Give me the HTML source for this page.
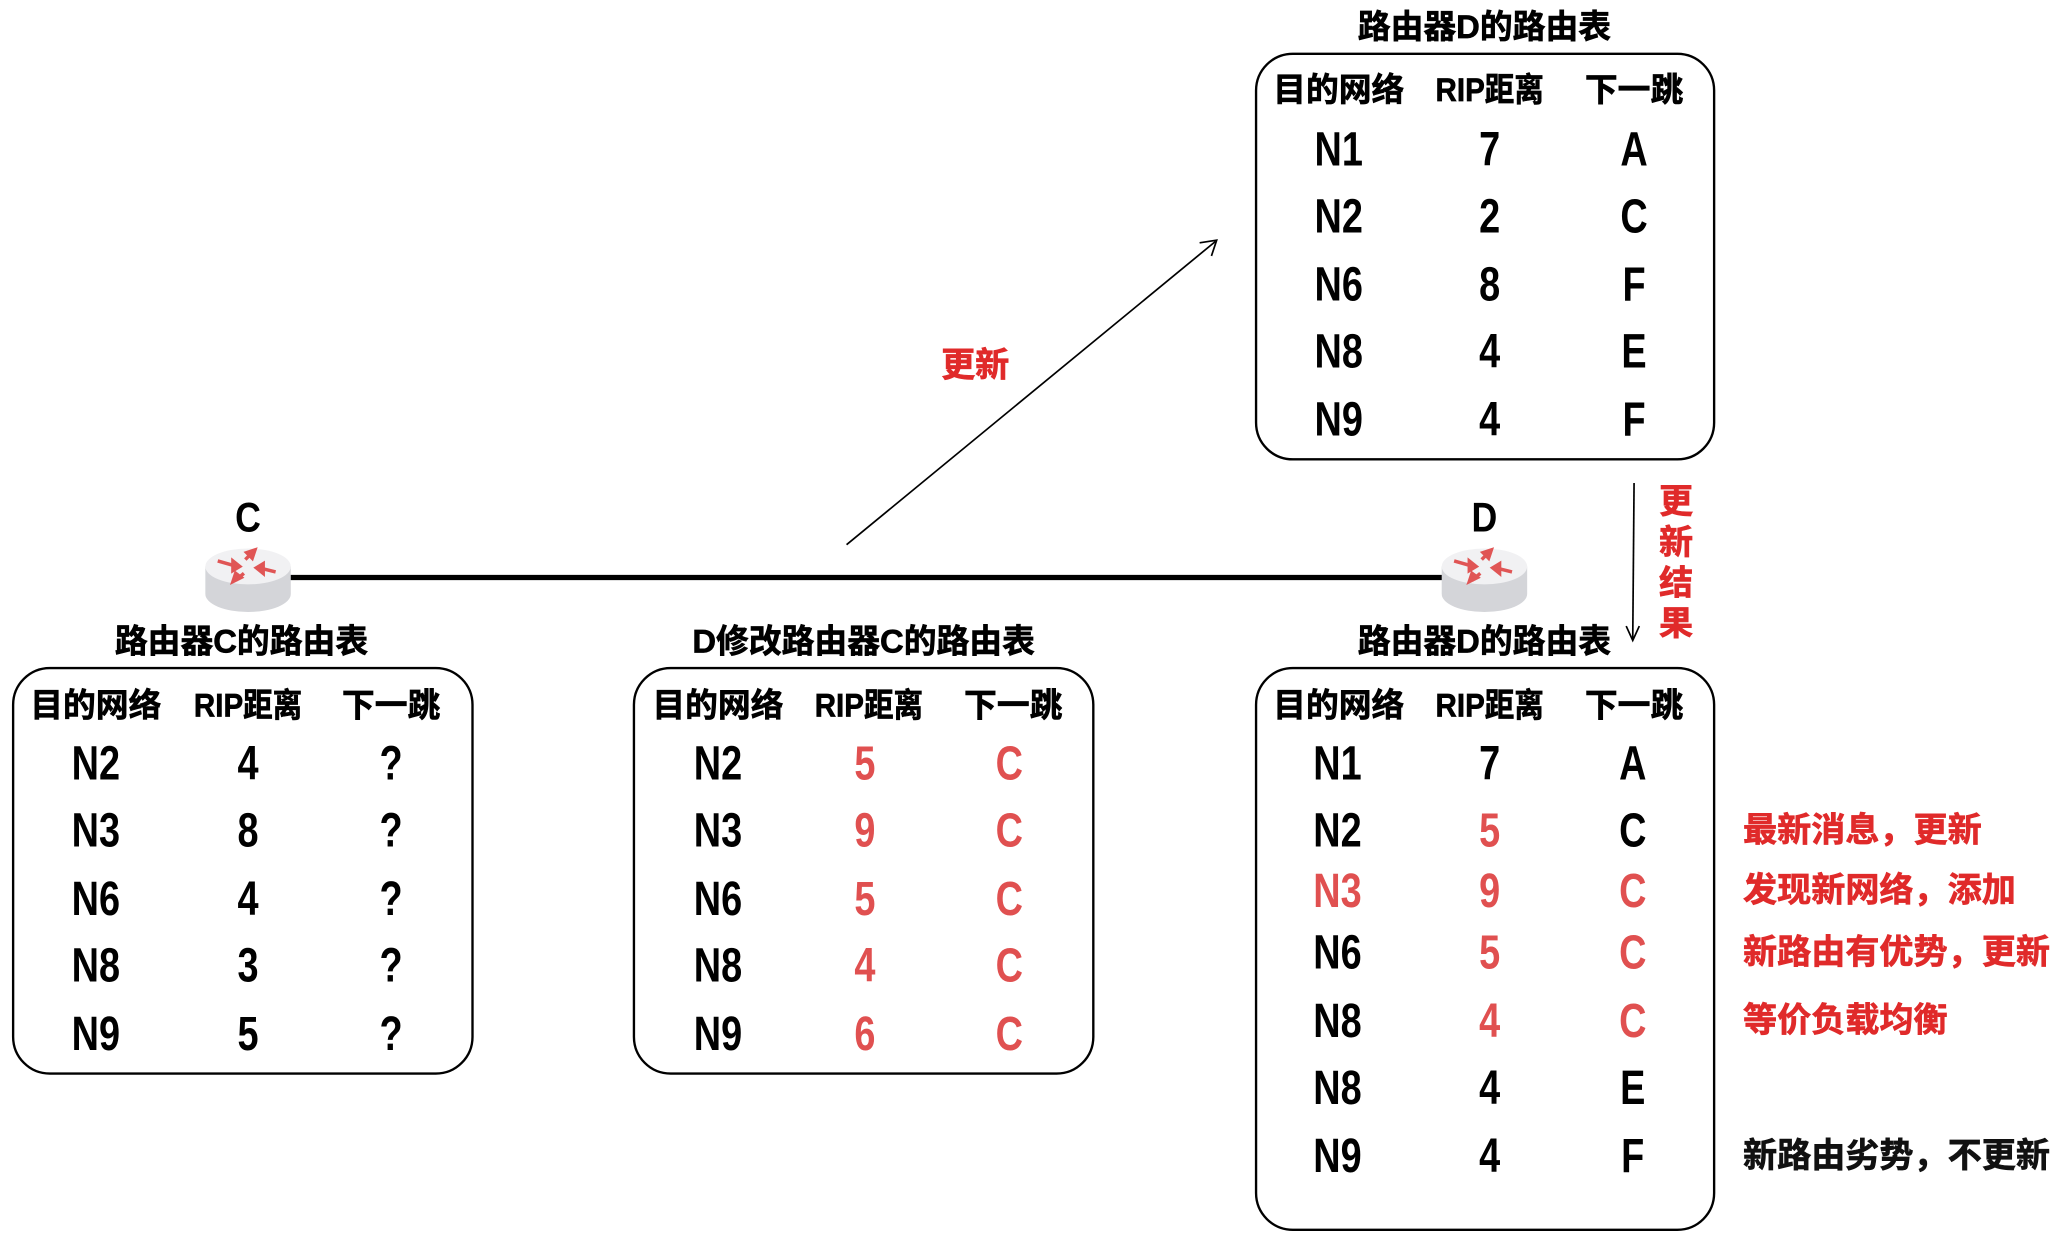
<!DOCTYPE html>
<html><head><meta charset="utf-8"><style>
html,body{margin:0;padding:0;background:#fff;}
svg{display:block;}
text{font-family:"Liberation Sans","Noto Sans CJK SC",sans-serif;font-weight:bold;}
.h{font-size:25px;stroke:#000;stroke-width:0.5px;}
.t{font-size:25px;stroke:#000;stroke-width:0.5px;}
.r{font-size:37px;}
.red{fill:#e05050;}
.ann{font-size:26px;fill:#e02a2a;stroke:#e02a2a;stroke-width:0.5px;}
</style></head><body>
<svg width="2058" height="1242" viewBox="0 0 1568 946.3" preserveAspectRatio="none" xmlns="http://www.w3.org/2000/svg">
<defs>
<g id="router">
 <path d="M-31,-8 L-31,12 A31,13 0 0 0 31,12 L31,-8 Z" fill="#d4d5d9"/>
 <ellipse cx="0" cy="-8" rx="31" ry="13" fill="#f1f1f3"/>
 <g stroke="#e05555" stroke-width="2.5" fill="#e05555">
  <line x1="-22" y1="-12" x2="-8" y2="-8"/><polygon points="-6,-8 -11,-12 -11,-5"/>
  <line x1="20" y1="-4" x2="8" y2="-7"/><polygon points="6,-7 11,-10 11,-3"/>
  <line x1="3" y1="-18" x2="-2" y2="-13"/><polygon points="5,-20 -1,-18 3,-14"/>
  <line x1="-3" y1="-3" x2="-9" y2="2"/><polygon points="-11,3 -9,-3 -5,0"/>
 </g>
</g>
</defs>

<line x1="215" y1="440" x2="1105" y2="440" stroke="#000" stroke-width="4"/>
<g transform="translate(189,440) scale(1.05)"><use href="#router"/></g>
<g transform="translate(1131,440) scale(1.05)"><use href="#router"/></g>
<text x="189" y="405" text-anchor="middle" style="font-size:32px" transform="translate(189,0) scale(0.85,1) translate(-189,0)">C</text>
<text x="1131" y="405" text-anchor="middle" style="font-size:32px" transform="translate(1131,0) scale(0.85,1) translate(-1131,0)">D</text>

<line x1="645" y1="415" x2="926" y2="184" stroke="#000" stroke-width="1.3"/>
<polyline points="914,185 927,183 923,195" fill="none" stroke="#000" stroke-width="1.3"/>
<text x="743" y="287" text-anchor="middle" class="ann">更新</text>

<line x1="1245" y1="368" x2="1244" y2="487" stroke="#000" stroke-width="1.3"/>
<polyline points="1239,477 1244,488 1249,477" fill="none" stroke="#000" stroke-width="1.3"/>
<text x="1277" y="391" class="ann" text-anchor="middle">更</text>
<text x="1277" y="422" class="ann" text-anchor="middle">新</text>
<text x="1277" y="453" class="ann" text-anchor="middle">结</text>
<text x="1277" y="484" class="ann" text-anchor="middle">果</text>

<text x="1131" y="29" text-anchor="middle" class="t">路由器D的路由表</text>
<text x="184" y="497" text-anchor="middle" class="t">路由器C的路由表</text>
<text x="658" y="497" text-anchor="middle" class="t">D修改路由器C的路由表</text>
<text x="1131" y="497" text-anchor="middle" class="t">路由器D的路由表</text>

<rect x="957" y="41" width="349" height="309" rx="28" fill="none" stroke="#000" stroke-width="1.8"/>
<rect x="10" y="509" width="350" height="309" rx="28" fill="none" stroke="#000" stroke-width="1.8"/>
<rect x="483" y="509" width="350" height="309" rx="28" fill="none" stroke="#000" stroke-width="1.8"/>
<rect x="957" y="509" width="349" height="428" rx="28" fill="none" stroke="#000" stroke-width="1.8"/>

<text x="1020" y="77" class="h" text-anchor="middle">目的网络</text>
<text x="1135" y="77" class="h" text-anchor="middle" transform="translate(1135,0) scale(0.9,1) translate(-1135,0)">RIP距离</text>
<text x="1245" y="77" class="h" text-anchor="middle">下一跳</text>

<text x="73" y="546" class="h" text-anchor="middle">目的网络</text>
<text x="189" y="546" class="h" text-anchor="middle" transform="translate(189,0) scale(0.9,1) translate(-189,0)">RIP距离</text>
<text x="298" y="546" class="h" text-anchor="middle">下一跳</text>

<text x="547" y="546" class="h" text-anchor="middle">目的网络</text>
<text x="662" y="546" class="h" text-anchor="middle" transform="translate(662,0) scale(0.9,1) translate(-662,0)">RIP距离</text>
<text x="772" y="546" class="h" text-anchor="middle">下一跳</text>

<text x="1020" y="546" class="h" text-anchor="middle">目的网络</text>
<text x="1135" y="546" class="h" text-anchor="middle" transform="translate(1135,0) scale(0.9,1) translate(-1135,0)">RIP距离</text>
<text x="1245" y="546" class="h" text-anchor="middle">下一跳</text>

<g transform="translate(1020,0) scale(0.78,1)"><text class="r" text-anchor="middle" y="126">N1</text><text class="r" text-anchor="middle" y="177">N2</text><text class="r" text-anchor="middle" y="229">N6</text><text class="r" text-anchor="middle" y="280">N8</text><text class="r" text-anchor="middle" y="332">N9</text></g>
<g transform="translate(1135,0) scale(0.78,1)"><text class="r" text-anchor="middle" y="126">7</text><text class="r" text-anchor="middle" y="177">2</text><text class="r" text-anchor="middle" y="229">8</text><text class="r" text-anchor="middle" y="280">4</text><text class="r" text-anchor="middle" y="332">4</text></g>
<g transform="translate(1245,0) scale(0.78,1)"><text class="r" text-anchor="middle" y="126">A</text><text class="r" text-anchor="middle" y="177">C</text><text class="r" text-anchor="middle" y="229">F</text><text class="r" text-anchor="middle" y="280">E</text><text class="r" text-anchor="middle" y="332">F</text></g>

<g transform="translate(73,0) scale(0.78,1)"><text class="r" text-anchor="middle" y="594">N2</text><text class="r" text-anchor="middle" y="645">N3</text><text class="r" text-anchor="middle" y="697">N6</text><text class="r" text-anchor="middle" y="748">N8</text><text class="r" text-anchor="middle" y="800">N9</text></g>
<g transform="translate(189,0) scale(0.78,1)"><text class="r" text-anchor="middle" y="594">4</text><text class="r" text-anchor="middle" y="645">8</text><text class="r" text-anchor="middle" y="697">4</text><text class="r" text-anchor="middle" y="748">3</text><text class="r" text-anchor="middle" y="800">5</text></g>
<g transform="translate(298,0) scale(0.78,1)"><text class="r" text-anchor="middle" y="594">?</text><text class="r" text-anchor="middle" y="645">?</text><text class="r" text-anchor="middle" y="697">?</text><text class="r" text-anchor="middle" y="748">?</text><text class="r" text-anchor="middle" y="800">?</text></g>

<g transform="translate(547,0) scale(0.78,1)"><text class="r" text-anchor="middle" y="594">N2</text><text class="r" text-anchor="middle" y="645">N3</text><text class="r" text-anchor="middle" y="697">N6</text><text class="r" text-anchor="middle" y="748">N8</text><text class="r" text-anchor="middle" y="800">N9</text></g>
<g transform="translate(659,0) scale(0.78,1)"><text class="r red" text-anchor="middle" y="594">5</text><text class="r red" text-anchor="middle" y="645">9</text><text class="r red" text-anchor="middle" y="697">5</text><text class="r red" text-anchor="middle" y="748">4</text><text class="r red" text-anchor="middle" y="800">6</text></g>
<g transform="translate(769,0) scale(0.78,1)"><text class="r red" text-anchor="middle" y="594">C</text><text class="r red" text-anchor="middle" y="645">C</text><text class="r red" text-anchor="middle" y="697">C</text><text class="r red" text-anchor="middle" y="748">C</text><text class="r red" text-anchor="middle" y="800">C</text></g>

<g transform="translate(1019,0) scale(0.78,1)"><text class="r" text-anchor="middle" y="594">N1</text><text class="r" text-anchor="middle" y="645">N2</text><text class="r red" text-anchor="middle" y="691">N3</text><text class="r" text-anchor="middle" y="738">N6</text><text class="r" text-anchor="middle" y="790">N8</text><text class="r" text-anchor="middle" y="841">N8</text><text class="r" text-anchor="middle" y="893">N9</text></g>
<g transform="translate(1135,0) scale(0.78,1)"><text class="r" text-anchor="middle" y="594">7</text><text class="r red" text-anchor="middle" y="645">5</text><text class="r red" text-anchor="middle" y="691">9</text><text class="r red" text-anchor="middle" y="738">5</text><text class="r red" text-anchor="middle" y="790">4</text><text class="r" text-anchor="middle" y="841">4</text><text class="r" text-anchor="middle" y="893">4</text></g>
<g transform="translate(1244,0) scale(0.78,1)"><text class="r" text-anchor="middle" y="594">A</text><text class="r" text-anchor="middle" y="645">C</text><text class="r red" text-anchor="middle" y="691">C</text><text class="r red" text-anchor="middle" y="738">C</text><text class="r red" text-anchor="middle" y="790">C</text><text class="r" text-anchor="middle" y="841">E</text><text class="r" text-anchor="middle" y="893">F</text></g>

<text x="1328" y="641" class="ann">最新消息，更新</text>
<text x="1328" y="687" class="ann">发现新网络，添加</text>
<text x="1328" y="734" class="ann">新路由有优势，更新</text>
<text x="1328" y="786" class="ann">等价负载均衡</text>
<text x="1328" y="889" class="ann" style="fill:#111;stroke:#111">新路由劣势，不更新</text>
</svg>
</body></html>
